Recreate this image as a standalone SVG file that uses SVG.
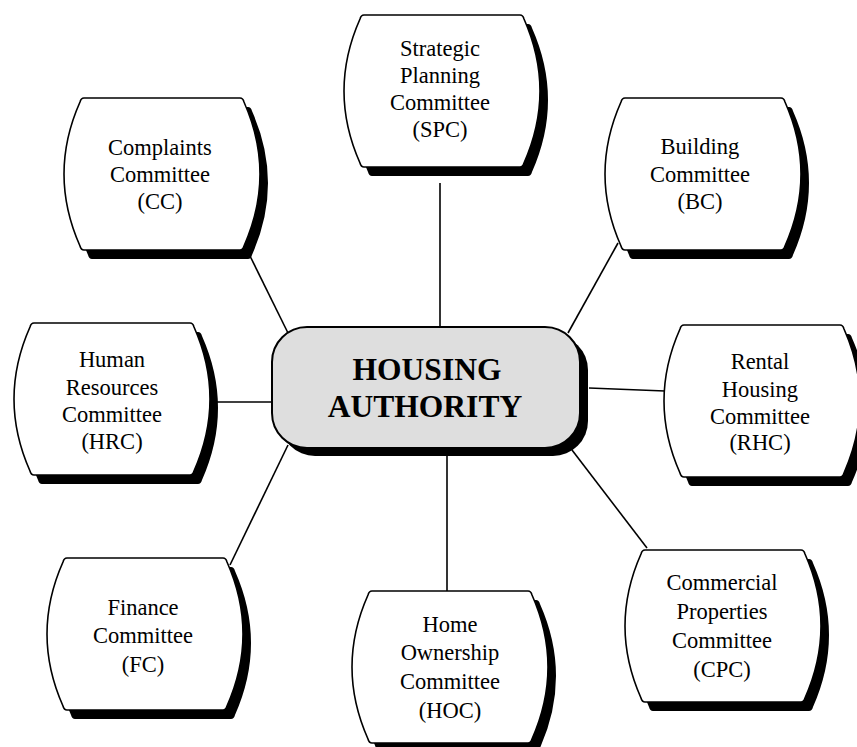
<svg xmlns="http://www.w3.org/2000/svg" xmlns:xlink="http://www.w3.org/1999/xlink" width="857" height="747" viewBox="0 0 857 747">
<style>
.shadow{fill:#000;stroke:none}
.box{fill:#fff;stroke:#000;stroke-width:1.6}
.conn line{stroke:#000;stroke-width:1.6}
.lbl{font-family:"Liberation Serif","Times New Roman",serif;font-size:22.5px;text-anchor:middle;fill:#000}
.hub{font-family:"Liberation Serif","Times New Roman",serif;font-size:31.5px;font-weight:bold;text-anchor:middle;fill:#000}
</style>
<defs>
<path id="scroll" d="M2,0 H158 q3,0 4,4 Q194,76 162,148 q-1,4 -4,4 H2 q-3,0 -4,-4 Q-34,76 -2,4 q1,-4 4,-4 Z"/>
</defs>
<rect width="857" height="747" fill="#fff"/>
<g class="conn" id="connectors">
<line x1="440" y1="183" x2="440" y2="327"/>
<line x1="250" y1="256" x2="288" y2="333"/>
<line x1="618" y1="243" x2="568" y2="333"/>
<line x1="215" y1="402" x2="272" y2="402"/>
<line x1="589" y1="388" x2="665" y2="391"/>
<line x1="288" y1="445" x2="230" y2="565"/>
<line x1="447" y1="456" x2="447" y2="591"/>
<line x1="572" y1="450" x2="647" y2="548"/>
</g>
<g id="hub">
<rect class="shadow" x="280" y="335" width="308" height="121" rx="35"/>
<rect x="272" y="327" width="308" height="121" rx="35" fill="#dedede" stroke="#000" stroke-width="2"/>
<text class="hub" x="427" y="380">HOUSING</text>
<text class="hub" x="425" y="417">AUTHORITY</text>
</g>
<g id="spc">
<use href="#scroll" class="shadow" transform="translate(370,24)"/>
<use href="#scroll" class="box" transform="translate(362,15)"/>
<text class="lbl" x="440" y="56">Strategic</text>
<text class="lbl" x="440" y="83">Planning</text>
<text class="lbl" x="440" y="110">Committee</text>
<text class="lbl" x="440" y="137">(SPC)</text>
</g>
<g id="cc">
<use href="#scroll" class="shadow" transform="translate(90,107)"/>
<use href="#scroll" class="box" transform="translate(82,98)"/>
<text class="lbl" x="160" y="155">Complaints</text>
<text class="lbl" x="160" y="182">Committee</text>
<text class="lbl" x="160" y="209">(CC)</text>
</g>
<g id="bc">
<use href="#scroll" class="shadow" transform="translate(631,107)"/>
<use href="#scroll" class="box" transform="translate(623,98)"/>
<text class="lbl" x="700" y="154">Building</text>
<text class="lbl" x="700" y="182">Committee</text>
<text class="lbl" x="700" y="209">(BC)</text>
</g>
<g id="hrc">
<use href="#scroll" class="shadow" transform="translate(40,332)"/>
<use href="#scroll" class="box" transform="translate(32,323)"/>
<text class="lbl" x="112" y="367">Human</text>
<text class="lbl" x="112" y="395">Resources</text>
<text class="lbl" x="112" y="422">Committee</text>
<text class="lbl" x="112" y="449">(HRC)</text>
</g>
<g id="rhc">
<use href="#scroll" class="shadow" transform="translate(690,334)"/>
<use href="#scroll" class="box" transform="translate(682,325)"/>
<text class="lbl" x="760" y="369">Rental</text>
<text class="lbl" x="760" y="397">Housing</text>
<text class="lbl" x="760" y="424">Committee</text>
<text class="lbl" x="760" y="450">(RHC)</text>
</g>
<g id="fc">
<use href="#scroll" class="shadow" transform="translate(73,567)"/>
<use href="#scroll" class="box" transform="translate(65,558)"/>
<text class="lbl" x="143" y="615">Finance</text>
<text class="lbl" x="143" y="643">Committee</text>
<text class="lbl" x="143" y="672">(FC)</text>
</g>
<g id="hoc">
<use href="#scroll" class="shadow" transform="translate(378,600)"/>
<use href="#scroll" class="box" transform="translate(370,591)"/>
<text class="lbl" x="450" y="632">Home</text>
<text class="lbl" x="450" y="660">Ownership</text>
<text class="lbl" x="450" y="689">Committee</text>
<text class="lbl" x="450" y="718">(HOC)</text>
</g>
<g id="cpc">
<use href="#scroll" class="shadow" transform="translate(651,559)"/>
<use href="#scroll" class="box" transform="translate(643,550)"/>
<text class="lbl" x="722" y="590">Commercial</text>
<text class="lbl" x="722" y="619">Properties</text>
<text class="lbl" x="722" y="648">Committee</text>
<text class="lbl" x="722" y="677">(CPC)</text>
</g>
</svg>
